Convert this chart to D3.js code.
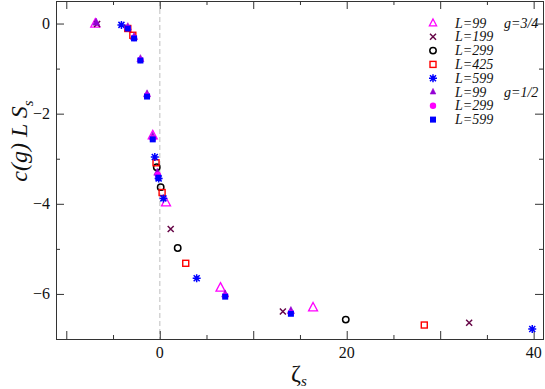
<!DOCTYPE html>
<html><head><meta charset="utf-8">
<script src="https://cdn.jsdelivr.net/npm/d3@7"></script>
<style>body{margin:0;background:#fff}svg{display:block}</style>
</head><body>
<script>
// ---- data ----
const g34_L99_x  = [-6.9, -0.75, 0.67, 6.5, 16.4];
const g34_L99_y  = [0.0, -2.48, -3.97, -5.86, -6.30];
const g34_L199_x = [-6.7, 1.17, 13.17, 33.1];
const g34_L199_y = [-0.01, -4.56, -6.39, -6.64];
const g34_L299_x = [-0.32, 0.1, 1.92, 19.9];
const g34_L299_y = [-3.19, -3.63, -4.98, -6.57];
const g34_L425_x = [-3.42, -2.88, -0.40, 0.25, 2.78, 28.3];
const g34_L425_y = [-0.11, -0.26, -3.09, -3.75, -5.32, -6.69];
const g34_L599_x = [-4.1, -0.53, -0.12, 0.39, 3.95, 39.85];
const g34_L599_y = [-0.03, -2.96, -3.44, -3.88, -5.65, -6.78];
const g12_L99_x  = [-6.8, -3.42, -2.75, -2.07, -1.36, -0.75, -0.26, 7.0, 14.03];
const g12_L99_y  = [0.02, -0.08, -0.30, -0.79, -1.57, -2.51, -3.31, -6.01, -6.38];
const g12_L299_x = [-3.42, -2.75, -2.07, -1.36, -0.75, -0.2, 7.0, 14.03];
const g12_L299_y = [-0.10, -0.32, -0.81, -1.60, -2.55, -3.36, -6.04, -6.42];
const g12_L599_x = [-3.42, -2.75, -2.07, -1.36, -0.75, -0.15, 7.0, 14.03];
const g12_L599_y = [-0.11, -0.33, -0.82, -1.62, -2.57, -3.42, -6.06, -6.44];
const xTickLabels = [0, 20, 40];
const yTickLabels = [0, -2, -4, -6];
const legendLabels = ["L=99","L=199","L=299","L=425","L=599","L=99","L=299","L=599"];

const W = 545, H = 389;
const m = {l:56, r:543, t:1, b:339};
const x = d3.scaleLinear().domain([-11.1, 41]).range([m.l, m.r]);
const y = d3.scaleLinear().domain([-7, 0.5]).range([m.b, m.t]);

const svg = d3.select("body").append("svg").attr("width", W).attr("height", H);
const serif = "'Liberation Serif','DejaVu Serif',serif";

// zero dashed line
svg.append("line").attr("x1", x(0)).attr("x2", x(0)).attr("y1", m.t).attr("y2", m.b)
  .attr("stroke", "#d4d4d4").attr("stroke-width", 1.5).attr("stroke-dasharray", "5,3");

// axes with inward ticks on all sides
const axCol = "#333";
function ticks(g, axis){ g.call(axis); g.select(".domain").remove(); g.selectAll("line").attr("stroke", axCol); g.selectAll("text").remove(); }
const xMaj = d3.range(-10, 41, 10), xMin = d3.range(-5, 41, 10);
const yMaj = d3.range(-6, 1, 2), yMin = d3.range(-7, 1, 2);
svg.append("g").attr("transform",`translate(0,${m.b})`).call(g=>ticks(g, d3.axisTop(x).tickValues(xMaj).tickSize(8)));
svg.append("g").attr("transform",`translate(0,${m.b})`).call(g=>ticks(g, d3.axisTop(x).tickValues(xMin).tickSize(4)));
svg.append("g").attr("transform",`translate(0,${m.t})`).call(g=>ticks(g, d3.axisBottom(x).tickValues(xMaj).tickSize(8)));
svg.append("g").attr("transform",`translate(0,${m.t})`).call(g=>ticks(g, d3.axisBottom(x).tickValues(xMin).tickSize(4)));
svg.append("g").attr("transform",`translate(${m.l},0)`).call(g=>ticks(g, d3.axisRight(y).tickValues(yMaj).tickSize(8)));
svg.append("g").attr("transform",`translate(${m.l},0)`).call(g=>ticks(g, d3.axisRight(y).tickValues(yMin).tickSize(4)));
svg.append("g").attr("transform",`translate(${m.r},0)`).call(g=>ticks(g, d3.axisLeft(y).tickValues(yMaj).tickSize(8)));
svg.append("g").attr("transform",`translate(${m.r},0)`).call(g=>ticks(g, d3.axisLeft(y).tickValues(yMin).tickSize(4)));
svg.append("rect").attr("x", m.l+0.5).attr("y", m.t+0.5).attr("width", m.r-m.l).attr("height", m.b-m.t)
  .attr("fill", "none").attr("stroke", axCol);

// tick labels
svg.append("g").selectAll("text").data(xTickLabels).join("text")
  .attr("x", d=>x(d)).attr("y", 358).attr("text-anchor","middle")
  .attr("font-family", serif).attr("font-size", 16).attr("fill","#111").text(d=>d);
svg.append("g").selectAll("text").data(yTickLabels).join("text")
  .attr("x", 50).attr("y", d=>y(d)+5.5).attr("text-anchor","end")
  .attr("font-family", serif).attr("font-size", 16).attr("fill","#111").text(d=>d<0?"\u2212"+(-d):d);

// axis titles
const xt = svg.append("text").attr("x", 291).attr("y", 381).attr("font-family", serif).attr("font-size", 24).attr("fill","#111");
xt.append("tspan").text("\u03B6");
xt.append("tspan").attr("font-size", 15).attr("font-style","italic").attr("dy", 5).text("s");
const yt = svg.append("text").attr("transform","translate(27,141) rotate(-90)").attr("text-anchor","middle")
  .attr("font-family", serif).attr("font-size", 24).attr("font-style","italic").attr("fill","#111");
yt.append("tspan").text("c(g) L S");
yt.append("tspan").attr("font-size", 15).attr("dy", 6).text("s");

// marker drawers
const C = {magenta:"#ff00ff", maroon:"#670748", black:"#000", red:"#ff0000", blue:"#0000ff", violet:"#9400d3"};
function mark(g, type, col, cx, cy, k){
  k = k || 1;
  if(type==="triOpen"){
    g.append("path").attr("d",`M${cx},${cy-5*k}L${cx+4.5*k},${cy+3.5*k}L${cx-4.5*k},${cy+3.5*k}Z`).attr("fill","none").attr("stroke",col).attr("stroke-width",1.3);
  } else if(type==="x"){
    g.append("path").attr("d",`M${cx-3},${cy-3}L${cx+3},${cy+3}M${cx-3},${cy+3}L${cx+3},${cy-3}`).attr("stroke",col).attr("stroke-width",1.5);
  } else if(type==="circOpen"){
    g.append("circle").attr("cx",cx).attr("cy",cy).attr("r",3.2).attr("fill","none").attr("stroke",col).attr("stroke-width",1.5);
  } else if(type==="sqOpen"){
    g.append("rect").attr("x",cx-3).attr("y",cy-3).attr("width",6).attr("height",6).attr("fill","none").attr("stroke",col).attr("stroke-width",1.4);
  } else if(type==="star"){
    g.append("path").attr("d",`M${cx-4},${cy}L${cx+4},${cy}M${cx},${cy-4}L${cx},${cy+4}M${cx-3},${cy-3}L${cx+3},${cy+3}M${cx-3},${cy+3}L${cx+3},${cy-3}`).attr("stroke",col).attr("stroke-width",1.5);
  } else if(type==="triFill"){
    g.append("path").attr("d",`M${cx},${cy-4.5*k}L${cx+3.5*k},${cy+2.5*k}L${cx-3.5*k},${cy+2.5*k}Z`).attr("fill",col).attr("stroke",col).attr("stroke-width",0.6);
  } else if(type==="circFill"){
    g.append("circle").attr("cx",cx).attr("cy",cy).attr("r",3.2).attr("fill",col);
  } else if(type==="sqFill"){
    g.append("rect").attr("x",cx-3).attr("y",cy-3).attr("width",6).attr("height",6).attr("fill",col);
  }
}
const series = [
  {xs:g34_L99_x,  ys:g34_L99_y,  type:"triOpen", col:C.magenta},
  {xs:g34_L199_x, ys:g34_L199_y, type:"x",       col:C.maroon},
  {xs:g34_L299_x, ys:g34_L299_y, type:"circOpen",col:C.black},
  {xs:g34_L425_x, ys:g34_L425_y, type:"sqOpen",  col:C.red},
  {xs:g34_L599_x, ys:g34_L599_y, type:"star",    col:C.blue},
  {xs:g12_L99_x,  ys:g12_L99_y,  type:"triFill", col:C.violet},
  {xs:g12_L299_x, ys:g12_L299_y, type:"circFill",col:C.magenta},
  {xs:g12_L599_x, ys:g12_L599_y, type:"sqFill",  col:C.blue}
];
const pts = svg.append("g");
series.forEach(s => s.xs.forEach((v,i) => mark(pts, s.type, s.col, x(v), y(s.ys[i]))));

// legend
const lg = svg.append("g");
series.forEach((s,i) => {
  const ly = 23 + i*13.8;
  mark(lg, s.type, s.col, 433, ly, 0.8);
  lg.append("text").attr("x", 455).attr("y", ly+4.5).attr("font-family", serif).attr("font-size", 14)
    .attr("font-style","italic").attr("fill","#111").text(legendLabels[i]);
});
lg.append("text").attr("x", 504).attr("y", 23+4.5).attr("font-family", serif).attr("font-size", 14).attr("font-style","italic").attr("fill","#111").text("g=3/4");
lg.append("text").attr("x", 504).attr("y", 23+5*13.8+4.5).attr("font-family", serif).attr("font-size", 14).attr("font-style","italic").attr("fill","#111").text("g=1/2");
</script>
</body></html>
